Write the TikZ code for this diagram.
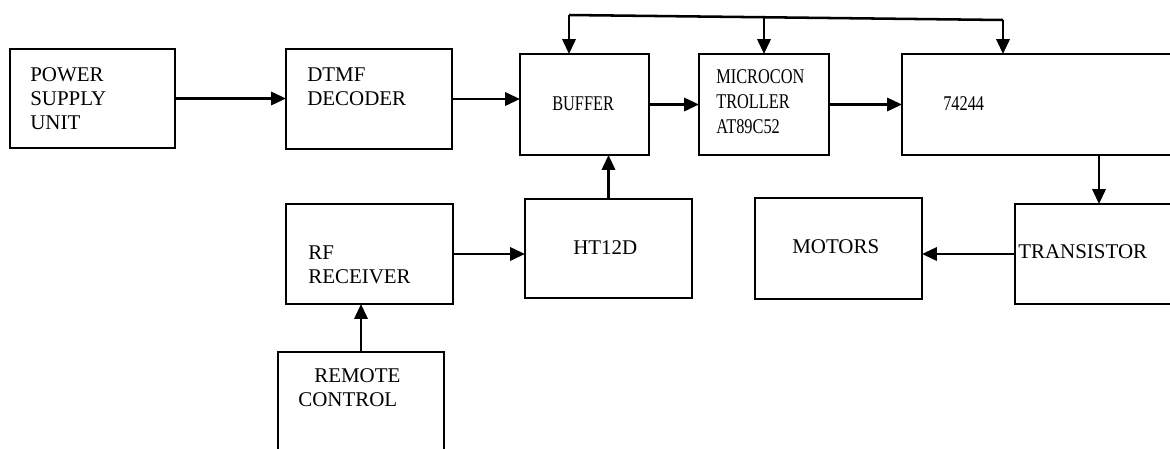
\documentclass[tikz,border=0pt]{standalone}
\usepackage{fontspec}
\setmainfont{Liberation Serif}
\newfontfamily\narrowfont{Liberation Serif}[FakeStretch=0.78]
\usepackage{tikz}
\usetikzlibrary{arrows.meta,positioning}

\begin{document}
\begin{tikzpicture}[
    x=0.025cm, y=-0.025cm,
    blk/.style={draw=black, line width=1pt, inner sep=0pt, outer sep=0pt},
    lbl/.style={inner sep=0pt, anchor=north west, align=left, font=\fontsize{14.9}{17}\selectfont},
    nlbl/.style={lbl, font=\narrowfont\fontsize{14.9}{17.7}\selectfont},
    arr/.style={-{Triangle[length=0.37cm,width=0.33cm]}, line width=1.8pt}
]
\useasboundingbox (0,0) rectangle (1170,448);

% blocks
\node[blk, minimum width=4.125cm, minimum height=2.475cm] (pwr) at (92.5,98.5) {};
\node[blk, minimum width=4.15cm, minimum height=2.5cm] (dtmf) at (369,99) {};
\node[blk, minimum width=3.225cm, minimum height=2.525cm] (buf) at (584.5,104.5) {};
\node[blk, minimum width=3.25cm, minimum height=2.525cm] (mcu) at (764,104.5) {};
\node[blk, minimum width=9.85cm, minimum height=2.525cm] (ic) at (1099,104.5) {};
\node[blk, minimum width=4.175cm, minimum height=2.5cm] (rf) at (369.5,254) {};
\node[blk, minimum width=4.175cm, minimum height=2.475cm] (ht) at (608.5,248.5) {};
\node[blk, minimum width=4.15cm, minimum height=2.95cm] (rc) at (361,411) {};
\node[blk, minimum width=4.175cm, minimum height=2.525cm] (mot) at (838.5,248.5) {};
\node[blk, minimum width=4.2cm, minimum height=2.5cm] (trn) at (1099,254) {};

% texts
\node[lbl] (pwrtxt) at (30,67.1) {POWER\\SUPPLY\\UNIT};
\node[lbl] (dtmftxt) at (307,67.1) {DTMF\\DECODER};
\node[nlbl] (buftxt) at (552,96.1) {BUFFER};
\node[nlbl] (mcutxt) at (716,69.1) {MICROCON\\TROLLER\\AT89C52};
\node[nlbl] (ictxt) at (943,96.1) {74244};
\node[lbl] (rftxt) at (308,245.1) {RF\\RECEIVER};
\node[lbl] (httxt) at (573,240.1) {HT12D};
\node[lbl] (rctxt) at (298,368.1) {\hspace*{0.4cm}REMOTE\\CONTROL};
\node[lbl] (mottxt) at (792,239.1) {MOTORS};
\node[lbl] (trntxt) at (1018,244.1) {TRANSISTOR};

% bus on top
\coordinate (tl) at (569,15);
\coordinate (tm) at (764,17.8);
\coordinate (tr) at (1003,20);

\draw[arr] (pwr.east) -- (pwr.east -| dtmf.west);
\draw[arr] (dtmf.east) -- (dtmf.east -| buf.west);
\draw[arr] (buf.east) -- (buf.east -| mcu.west);
\draw[arr] (mcu.east) -- (mcu.east -| ic.west);
\draw[arr] (ic.south) -- (trn.north);
\draw[arr] (trn.west) -- (trn.west -| mot.east);
\draw[arr] (rc.north) -- (rc.north |- rf.south);
\draw[arr] (rf.east) -- (rf.east -| ht.west);
\draw[arr] (ht.north) -- (ht.north |- buf.south);
\draw[line width=1.8pt] (tl) -- (tr);
\draw[arr] (tl) -- (tl |- buf.north);
\draw[arr] (tm) -- (tm |- mcu.north);
\draw[arr] (tr) -- (tr |- ic.north);
\end{tikzpicture}
\end{document}
